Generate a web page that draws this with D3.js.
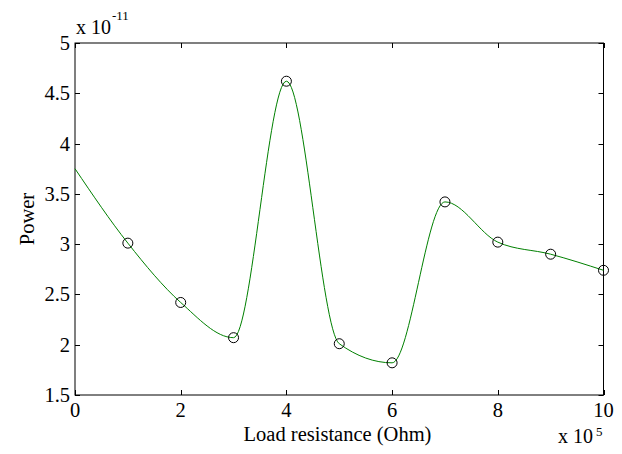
<!DOCTYPE html>
<html><head><meta charset="utf-8">
<script src="https://cdn.jsdelivr.net/npm/d3@7"></script>
<style>body{margin:0;background:#fff}svg{display:block}text{font-family:"Liberation Serif","Times New Roman",serif;fill:#000}</style>
</head><body><svg id="c" width="622" height="454"></svg>
<script>
// Load resistance in units of 1e5 Ohm; power in units of 1e-11
const curveX = [0, 1, 2, 3, 4, 5, 6, 7, 8, 9, 10];
const curveY = [3.75, 3.01, 2.42, 2.07, 4.62, 2.01, 1.82, 3.42, 3.02, 2.90, 2.74];
const markerX = [1, 2, 3, 4, 5, 6, 7, 8, 9, 10];
const markerY = [3.01, 2.42, 2.07, 4.62, 2.01, 1.82, 3.42, 3.02, 2.90, 2.74];
const xTicks = [0, 2, 4, 6, 8, 10];
const yTicks = [1.5, 2, 2.5, 3, 3.5, 4, 4.5, 5];

const L = 75, R = 603.5, T = 43, B = 395;
const FS = 20.5;
const svg = d3.select("#c");
const x = d3.scaleLinear().domain([0, 10]).range([L, R]);
const y = d3.scaleLinear().domain([1.5, 5]).range([B, T]);

// frame
svg.append("rect").attr("x", L).attr("y", T).attr("width", R - L).attr("height", B - T)
  .attr("fill", "none").attr("stroke", "#000").attr("stroke-width", 1);

const g = svg.append("g");
// ticks inward on all four sides
xTicks.forEach(t => {
  const px = Math.round(x(t)) + 0.5;
  g.append("line").attr("x1", px).attr("x2", px).attr("y1", B).attr("y2", B - 5).attr("stroke", "#000");
  g.append("line").attr("x1", px).attr("x2", px).attr("y1", T).attr("y2", T + 5).attr("stroke", "#000");
  g.append("text").attr("x", x(t)).attr("y", 417).attr("text-anchor", "middle")
    .attr("font-size", FS).text(d3.format("~g")(t));
});
yTicks.forEach(t => {
  const py = Math.round(y(t)) + 0.5;
  g.append("line").attr("x1", L).attr("x2", L + 5).attr("y1", py).attr("y2", py).attr("stroke", "#000");
  g.append("line").attr("x1", R).attr("x2", R - 5).attr("y1", py).attr("y2", py).attr("stroke", "#000");
  g.append("text").attr("x", 70).attr("y", y(t) + 7).attr("text-anchor", "end")
    .attr("font-size", FS).text(d3.format("~g")(t));
});

// curve
const line = d3.line().x((d, i) => x(curveX[i])).y(d => y(d)).curve(d3.curveMonotoneX);
svg.append("path").datum(curveY).attr("d", line)
  .attr("fill", "none").attr("stroke", "#008000").attr("stroke-width", 1);

// markers
svg.selectAll("circle.m").data(markerY).enter().append("circle")
  .attr("class", "m").attr("cx", (d, i) => x(markerX[i])).attr("cy", d => y(d)).attr("r", 5)
  .attr("fill", "none").attr("stroke", "#000").attr("stroke-width", 1);

// exponent labels
svg.append("text").attr("x", 76).attr("y", 34).attr("font-size", 20).text("x 10");
svg.append("text").attr("x", 112).attr("y", 20).attr("font-size", 13).text("-11");
svg.append("text").attr("x", 558).attr("y", 443).attr("font-size", 20).text("x 10");
svg.append("text").attr("x", 596).attr("y", 436).attr("font-size", 13).text("5");

// axis titles
svg.append("text").attr("x", 337.5).attr("y", 441).attr("text-anchor", "middle")
  .attr("font-size", FS).text("Load resistance (Ohm)");
svg.append("text").attr("transform", "translate(34," + ((T + B) / 2) + ") rotate(-90)")
  .attr("text-anchor", "middle").attr("font-size", FS).text("Power");
</script></body></html>
